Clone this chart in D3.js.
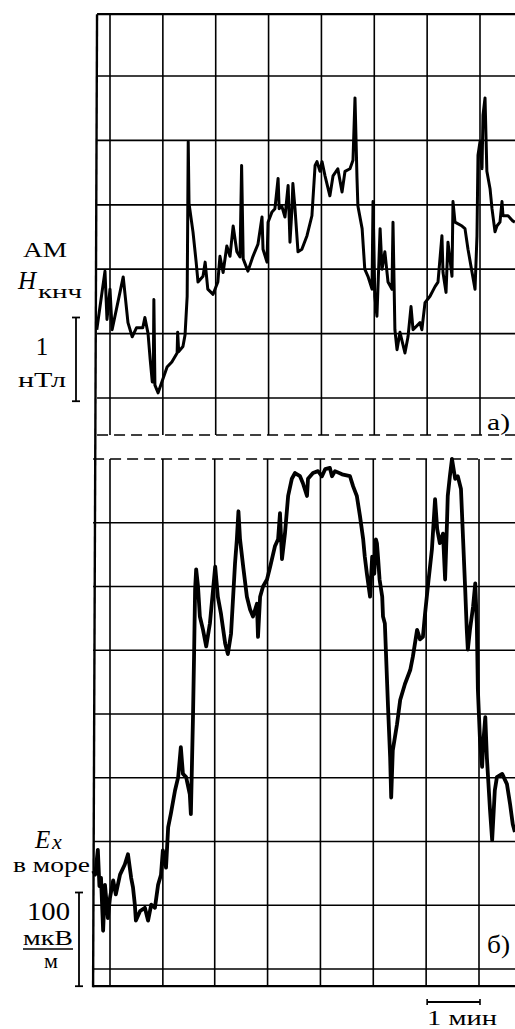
<!DOCTYPE html>
<html><head><meta charset="utf-8">
<script src="https://cdn.jsdelivr.net/npm/d3@7"></script>
<style>
body{margin:0;background:#fff}
text{font-family:"Liberation Serif","Times New Roman",serif;fill:#000}
</style>
</head><body>
<svg id="c" width="515" height="1029"></svg>
<script>
// time in minutes (chart-paper verticals every minute), amplitude in chart divisions
const minuteLines = [1,2,3,4,5,6,7,8];
const topDivLines = [0,1,2,3,4,5];
const botDivLines = [0,1,2,3,4,5,6,7];
const topTrace = [[0.75,1.06],[0.905,1.97],[0.943,1.22],[1.0,1.69],[1.04,1.06],[1.25,1.88],[1.34,1.17],[1.42,0.95],[1.50,1.09],[1.62,1.09],[1.66,1.25],[1.72,1.0],[1.76,0.6],[1.80,0.25],[1.82,0.5],[1.83,1.53],[1.85,0.2],[1.91,0.08],[2.08,0.48],[2.17,0.56],[2.27,0.70],[2.28,1.02],[2.30,0.72],[2.38,0.80],[2.42,0.98],[2.46,1.58],[2.48,3.98],[2.495,3.02],[2.57,2.58],[2.63,2.11],[2.665,1.80],[2.76,1.89],[2.80,2.11],[2.85,1.69],[2.95,1.61],[3.04,1.80],[3.08,2.20],[3.14,1.95],[3.21,2.36],[3.27,2.20],[3.33,2.67],[3.40,2.27],[3.46,2.19],[3.49,3.61],[3.52,2.16],[3.61,1.97],[3.705,2.20],[3.80,2.39],[3.876,2.81],[3.895,2.31],[3.97,2.11],[3.99,2.73],[4.065,2.89],[4.12,2.94],[4.18,3.41],[4.20,2.94],[4.25,2.98],[4.31,2.81],[4.37,3.30],[4.405,2.42],[4.44,2.90],[4.46,3.33],[4.50,2.94],[4.557,2.27],[4.63,2.31],[4.727,2.52],[4.82,2.83],[4.88,3.61],[4.916,3.67],[4.973,3.52],[5.011,3.67],[5.068,3.45],[5.16,3.14],[5.22,3.45],[5.31,3.56],[5.39,3.20],[5.446,3.52],[5.54,3.56],[5.597,3.69],[5.635,4.66],[5.673,3.41],[5.69,2.98],[5.77,2.63],[5.82,2.00],[5.88,1.89],[5.957,1.69],[5.976,3.05],[6.01,1.58],[6.05,1.27],[6.11,2.63],[6.146,2.00],[6.20,2.27],[6.26,1.80],[6.335,1.69],[6.354,2.73],[6.39,1.06],[6.43,0.75],[6.486,1.02],[6.58,0.70],[6.638,0.95],[6.695,1.42],[6.733,1.06],[6.865,1.17],[6.90,1.06],[6.96,1.48],[7.054,1.58],[7.149,1.73],[7.205,1.80],[7.28,2.52],[7.30,1.95],[7.357,1.64],[7.394,2.42],[7.47,1.89],[7.489,3.05],[7.527,2.73],[7.66,2.67],[7.716,2.63],[7.773,2.31],[7.85,1.95],[7.906,1.69],[7.943,2.52],[7.962,3.77],[8.0,3.98],[8.038,3.56],[8.057,4.39],[8.095,4.66],[8.13,3.52],[8.19,3.25],[8.227,2.94],[8.284,2.58],[8.32,2.67],[8.378,2.73],[8.416,3.05],[8.435,2.83],[8.53,2.83],[8.62,2.75],[8.66,2.73]];
const botTrace = [[0.68,1.54],[0.72,1.48],[0.77,1.87],[0.80,1.30],[0.83,1.43],[0.87,0.60],[0.905,1.32],[0.96,0.80],[1.0,1.12],[1.06,1.39],[1.11,1.17],[1.19,1.48],[1.28,1.64],[1.34,1.80],[1.40,1.43],[1.435,1.28],[1.47,1.01],[1.49,0.76],[1.57,0.91],[1.66,0.96],[1.72,0.76],[1.78,1.01],[1.85,0.96],[1.91,1.32],[1.965,1.48],[2.0,1.86],[2.06,1.59],[2.10,2.22],[2.15,2.43],[2.23,2.80],[2.29,3.01],[2.34,3.48],[2.38,3.06],[2.44,3.01],[2.51,2.74],[2.53,2.43],[2.57,3.95],[2.59,4.90],[2.61,5.95],[2.63,6.27],[2.665,6.00],[2.70,5.53],[2.76,5.32],[2.82,5.06],[2.89,5.42],[2.95,5.95],[2.99,6.31],[3.04,5.84],[3.10,5.57],[3.18,5.10],[3.23,4.94],[3.29,5.26],[3.365,6.36],[3.40,6.74],[3.43,7.18],[3.46,6.74],[3.52,6.31],[3.59,5.84],[3.65,5.64],[3.705,5.53],[3.78,5.73],[3.80,5.21],[3.84,5.84],[3.895,6.00],[3.97,6.11],[4.03,6.31],[4.12,6.63],[4.18,6.74],[4.216,7.15],[4.254,6.43],[4.31,6.83],[4.37,7.42],[4.44,7.69],[4.50,7.78],[4.595,7.73],[4.65,7.62],[4.727,7.42],[4.746,7.69],[4.84,7.78],[4.935,7.81],[5.01,7.73],[5.07,7.84],[5.16,7.86],[5.20,7.73],[5.257,7.81],[5.39,7.76],[5.54,7.73],[5.60,7.57],[5.67,7.42],[5.73,7.10],[5.79,6.74],[5.82,6.47],[5.86,6.20],[5.92,5.84],[5.96,6.47],[6.00,6.20],[6.03,6.74],[6.05,6.68],[6.07,6.47],[6.10,6.11],[6.15,5.84],[6.165,5.53],[6.20,5.42],[6.26,4.11],[6.30,3.32],[6.32,2.69],[6.35,3.43],[6.43,3.84],[6.49,4.22],[6.58,4.47],[6.68,4.69],[6.73,4.90],[6.81,5.32],[6.865,5.17],[6.92,5.21],[6.96,5.57],[7.02,6.05],[7.09,6.58],[7.15,7.37],[7.19,6.90],[7.24,6.68],[7.30,6.83],[7.34,6.11],[7.375,6.99],[7.39,7.42],[7.43,7.73],[7.47,8.00],[7.53,7.69],[7.58,7.73],[7.64,7.53],[7.68,6.74],[7.72,5.95],[7.75,5.32],[7.77,5.01],[7.81,5.32],[7.87,5.69],[7.91,6.05],[7.94,5.42],[7.96,4.38],[8.0,3.59],[8.04,3.17],[8.06,3.53],[8.10,3.95],[8.13,3.32],[8.19,2.49],[8.23,2.02],[8.28,2.80],[8.32,3.01],[8.42,3.06],[8.51,2.90],[8.57,2.58],[8.62,2.27],[8.66,2.15]];
// frame extents (minutes / divisions)
const tLeftTop = 0.755, tLeftBot = 0.68, tRight = 8.7;
const topFrame = [-0.575, 5.96];   // dashed bottom, solid top
const botFrame = [-0.27, 8.0];     // solid bottom, dashed top
// scale bars
const nTBar = [-0.05, 1.25];        // 1 нТл in divisions
const uVBar = [1.2, -0.27];         // 100 мкВ/м in divisions
const minBar = [7, 8];              // 1 мин

const svg = d3.select("#c");
const x = d3.scaleLinear().domain([1,8]).range([110,480]);
const yT = d3.scaleLinear().domain([0,5]).range([398,76]);
const yB = d3.scaleLinear().domain([0,8]).range([969,459]);

const g = svg.append("g").attr("stroke","#000").attr("fill","none");
const ln = (x1,y1,x2,y2,w,dash)=>{const l=g.append("line").attr("x1",x1).attr("y1",y1).attr("x2",x2).attr("y2",y2).attr("stroke-width",w);if(dash)l.attr("stroke-dasharray",dash);return l;};
const xl = x(tLeftTop), xr = x(tRight);
// left border
ln(x(tLeftTop), yT(topFrame[1]), x(tLeftBot), yB(botFrame[0])+1, 2.4);
// top panel
ln(xl, yT(topFrame[1]), xr, yT(topFrame[1]), 2.2);
topDivLines.forEach(v=>ln(xl, yT(v), xr, yT(v), 1.7));
ln(xl, yT(topFrame[0]), xr, yT(topFrame[0]), 1.6, "11,6");
minuteLines.forEach(t=>ln(x(t), yT(topFrame[1]), x(t), yT(topFrame[0]), 1.6));
// bottom panel
ln(x(tLeftBot), yB(botFrame[1]), xr, yB(botFrame[1]), 1.6, "11,6");
botDivLines.forEach(v=>ln(x(tLeftBot), yB(v), xr, yB(v), 1.7));
ln(x(tLeftBot), yB(botFrame[0]), xr, yB(botFrame[0]), 2.2);
minuteLines.forEach(t=>ln(x(t)-(t<=2?0:1), yB(botFrame[1]), x(t)-(t<=2?0:1), yB(botFrame[0]), 1.6));

// traces
const lineT = d3.line().x(d=>x(d[0])).y(d=>yT(d[1]));
const lineB = d3.line().x(d=>x(d[0])).y(d=>yB(d[1]));
g.append("path").attr("d",lineT(topTrace)).attr("stroke-width",3).attr("stroke-linejoin","round");
g.append("path").attr("d",lineB(botTrace)).attr("stroke-width",3.8).attr("stroke-linejoin","round");

// scale bars
const bracket=(xx,y1,y2)=>{ln(xx,y1,xx,y2,1.8);ln(xx-4,y1,xx+4,y1,1.8);ln(xx-4,y2,xx+4,y2,1.8);};
bracket(76, yT(nTBar[1]), yT(nTBar[0]));
bracket(79, yB(uVBar[0]), yB(uVBar[1]));
ln(x(minBar[0]), 1002, x(minBar[1]), 1002, 2.2);
ln(x(minBar[0]), 999, x(minBar[0]), 1005, 1.6);
ln(x(minBar[1]), 999, x(minBar[1]), 1005, 1.6);
ln(23, 949, 73, 949, 1.6);

// labels
const T=(s,xx,yy,size,opts={})=>{const t=svg.append("text").attr("x",xx).attr("y",yy).attr("font-size",size)
 .attr("font-family","'Liberation Serif', serif").text(s);
 if(opts.len){t.attr("textLength",opts.len).attr("lengthAdjust","spacingAndGlyphs");}
 if(opts.italic)t.attr("font-style","italic");
 if(opts.anchor)t.attr("text-anchor",opts.anchor);return t;};
T("АМ",23,257,20,{len:44});
T("H",18,289,25,{italic:true});
T("кнч",38,298,18,{len:44});
T("1",42,355,25,{anchor:"middle"});
T("нТл",18,387,22,{len:48});
T("а)",487,430,24,{len:23});
T("E",35,848,25,{italic:true});
T("x",52,849,22,{italic:true});
T("в море",13,872,20,{len:77});
T("100",27,920,26,{len:43});
T("мкВ",23,945,22,{len:50});
T("м",51,968,22,{anchor:"middle"});
T("б)",487,953,25,{len:23});
T("1 мин",427,1025,22,{len:70});
</script>
</body></html>
